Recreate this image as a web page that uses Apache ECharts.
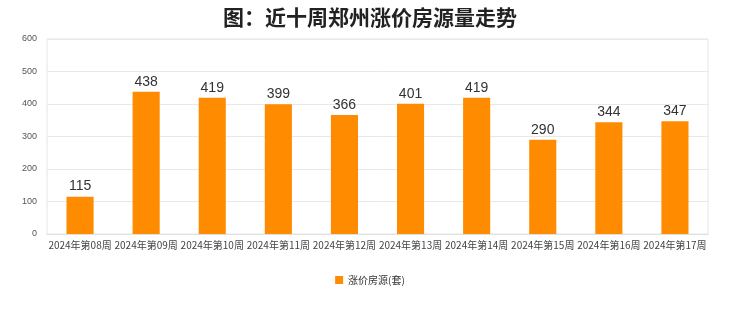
<!DOCTYPE html>
<html><head><meta charset="utf-8">
<script src="https://cdn.jsdelivr.net/npm/echarts@6/dist/echarts.min.js"></script>
<style>html,body{margin:0;padding:0;background:#fff}#c{width:740px;height:312px}</style>
</head><body><div id="c"></div>
<script>
var categories = ["2024年第08周","2024年第09周","2024年第10周","2024年第11周","2024年第12周","2024年第13周","2024年第14周","2024年第15周","2024年第16周","2024年第17周"];
var values = [115,438,419,399,366,401,419,290,344,347];
var seriesName = "涨价房源(套)";
var titleText = "图：近十周郑州涨价房源量走势";
var chart = echarts.init(document.getElementById('c'));
chart.setOption({
  animation:false,
  title:{text:titleText,left:'center',top:2,textStyle:{fontSize:21,fontWeight:'bold',color:'#222',fontFamily:'Noto Sans CJK SC'}},
  grid:{left:47,right:32,top:39,bottom:78,show:true,borderColor:'#e6e6e6',borderWidth:1},
  legend:{bottom:22,left:'center',itemWidth:8,itemHeight:8,icon:'rect',textStyle:{fontSize:10,color:'#333',fontFamily:'Noto Sans CJK SC'},data:[seriesName]},
  xAxis:{type:'category',data:categories,axisTick:{show:false},axisLine:{lineStyle:{color:'#e0e0e0'}},
    axisLabel:{fontSize:10,color:'#444',interval:0,margin:6,fontFamily:'Noto Sans CJK SC'}},
  yAxis:{type:'value',min:0,max:600,interval:100,axisLine:{show:false},axisTick:{show:false},
    splitLine:{lineStyle:{color:'#e8e8e8'}},axisLabel:{fontSize:9,color:'#555',margin:10}},
  series:[{name:seriesName,type:'bar',data:values,barWidth:'41%',itemStyle:{color:'#ff8c00'},
    label:{show:true,position:'top',fontSize:14,color:'#333',distance:3}}]
});
</script></body></html>
